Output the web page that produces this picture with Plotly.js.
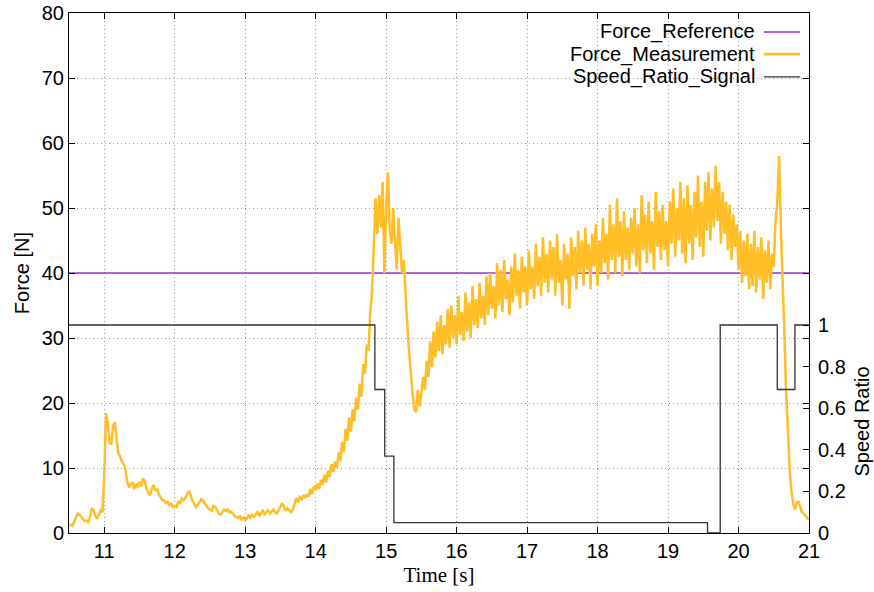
<!DOCTYPE html>
<html>
<head>
<meta charset="utf-8">
<script src="https://cdn.plot.ly/plotly-3.0.1.min.js"></script>
<style>html,body{margin:0;padding:0;background:#fff;}#chart{width:874px;height:592px;}</style>
</head>
<body>
<div id="chart"></div>
<script>
// ---- data ----
const seriesNames = ["Force_Reference", "Force_Measurement", "Speed_Ratio_Signal"];

const refTime = [10.5, 21.0];
const refForce = [40, 40];

// Force measurement, sampled every 0.025 s starting at 10.5 s
const measStart = 10.5;
const measStep = 0.025;
const measForce = [
  1.2,1.3,1.1,1.8,2.6,3.0,2.8,2.4,2.0,1.8,1.9,1.7,2.6,3.8,3.5,2.6,2.2,2.9,3.5,3.2,
  9.0,18.4,17.0,14.0,13.6,16.5,17.0,14.5,12.3,11.8,11.0,10.6,9.8,8.0,7.0,7.5,7.8,6.8,7.6,7.0,
  7.9,7.2,8.4,8.0,6.8,6.2,5.8,6.8,7.4,6.5,6.8,5.9,5.4,5.1,5.0,4.6,4.8,4.3,4.5,4.0,
  4.2,4.0,4.8,4.6,5.3,5.0,5.4,5.9,6.5,5.8,5.0,4.6,4.0,4.3,4.8,5.2,5.0,4.6,4.0,3.8,
  3.6,3.4,4.2,4.0,3.5,3.0,2.8,3.2,3.6,3.4,3.6,3.2,3.3,3.0,2.6,2.5,2.3,2.6,2.1,2.4,
  2.0,2.2,2.8,2.4,2.8,2.5,2.9,3.2,2.7,3.1,3.4,2.9,3.2,3.5,3.0,3.3,3.6,3.2,3.0,3.5,
  4.0,4.6,4.1,3.4,3.8,3.5,3.2,3.6,4.4,5.4,4.7,5.5,5.2,5.8,5.4,6.0,5.6,6.8,6.0,7.2,
  6.6,7.6,6.8,8.2,7.4,9.0,7.8,9.6,8.6,10.6,9.4,11.0,10.0,12.4,11.0,14.0,12.4,16.0,14.2,17.8,
  15.6,19.0,17.2,20.8,19.0,23.0,21.0,26.0,24.5,29.0,28.0,34.0,37.0,44.0,51.5,46.0,52.0,47.0,54.0,40.0,
  50.0,55.5,47.0,44.5,50.0,45.0,40.5,48.5,44.0,40.0,42.0,36.0,32.0,28.0,24.5,21.5,19.0,18.6,22.0,19.5,
  21.5,24.0,22.0,26.5,24.0,29.5,25.5,31.0,27.0,32.5,28.0,33.5,27.5,32.0,29.0,34.5,28.5,35.0,30.0,33.5,
  29.0,36.5,30.5,34.0,29.5,37.0,31.0,35.5,30.0,38.0,32.0,36.0,31.5,38.5,33.0,36.5,32.0,39.5,33.5,40.0,
  34.5,38.0,33.0,41.5,35.0,40.5,34.0,42.0,36.0,39.0,33.5,41.0,35.5,43.0,36.5,40.5,34.5,42.5,37.0,41.0,
  35.0,43.5,37.5,41.0,36.0,44.5,38.0,42.5,36.5,45.5,38.5,43.0,37.0,45.0,39.0,44.0,36.5,46.0,38.5,42.0,
  35.0,44.5,39.0,43.0,34.5,45.5,39.5,44.0,37.5,46.5,40.0,45.0,38.0,47.0,40.5,44.5,37.5,46.0,41.0,47.5,
  38.0,45.0,40.0,48.5,41.5,46.0,39.0,50.5,42.0,47.5,40.0,51.5,42.5,48.0,39.5,49.5,42.0,47.0,40.5,48.5,
  43.0,50.0,41.0,47.5,40.0,52.0,43.5,49.0,41.5,51.0,43.0,48.0,40.5,52.5,44.0,49.5,42.0,50.5,43.5,48.0,
  41.0,51.0,44.5,53.0,42.5,50.0,45.0,54.0,43.0,51.5,41.5,53.5,44.5,50.5,42.0,52.5,45.5,55.0,44.0,51.0,
  42.5,54.0,46.5,55.5,45.0,53.0,47.0,56.5,48.0,54.0,44.5,52.5,46.0,51.0,43.5,50.5,42.0,49.0,44.0,47.5,
  40.5,46.5,38.5,45.0,39.5,46.0,37.5,44.5,38.0,46.5,37.0,44.0,39.0,45.5,36.0,43.5,38.5,45.0,37.5,43.0,
  41.0,48.0,51.0,58.0,47.0,40.0,31.0,22.0,15.0,10.0,6.5,4.5,3.6,4.6,4.9,4.0,3.2,3.0,2.6,2.3,
  2.1
];
const measTime = measForce.map((_, i) => +(measStart + i * measStep).toFixed(3));

// Speed ratio signal (step changes)
const speedTime  = [10.5, 14.84, 14.98, 15.11, 19.56, 19.74, 20.55, 20.80, 21.0];
const speedRatio = [1.0,  0.69,  0.37,  0.05,  0.0,   1.0,   0.69,  1.0,   1.0];

const xTicks = [11,12,13,14,15,16,17,18,19,20,21];
const yTicks = [0,10,20,30,40,50,60,70,80];
const y2Ticks = [0,0.2,0.4,0.6,0.8,1];
const y2TickText = ["0","0.2","0.4","0.6","0.8","1"];

// ---- styles ----
const colRef = "#9b30e0";
const colMeas = "#ffbd26";
const colSpeed = "#333333";
const sans = "Liberation Sans, Arial, sans-serif";
const serif = "Liberation Serif, Times New Roman, serif";
const FS = 20;
const gridDash = "1px,3px";
const gridCol = "#9a9a9a";

const traces = [
  {x: refTime, y: refForce, name: seriesNames[0], type: "scatter", mode: "lines",
   line: {color: colRef, width: 1.3}, xaxis: "x", yaxis: "y"},
  {x: measTime, y: measForce, name: seriesNames[1], type: "scatter", mode: "lines",
   line: {color: colMeas, width: 2.5}, xaxis: "x", yaxis: "y"},
  {x: speedTime, y: speedRatio, name: seriesNames[2], type: "scatter", mode: "lines",
   line: {color: colSpeed, width: 1.3, shape: "hv"}, xaxis: "x", yaxis: "y2"}
];

// custom legend (text right-aligned, sample line on the right, as in the reference)
const legY = [0.9635, 0.921, 0.877];
const legCols = [colRef, colMeas, colSpeed];
const legW = [1.3, 2.8, 1.3];
const annotations = seriesNames.map((n, i) => ({
  xref: "paper", yref: "paper", x: 0.930, y: legY[i], xanchor: "right", yanchor: "middle",
  text: n, showarrow: false, font: {family: sans, size: FS, color: "#000"}
}));
annotations.push({
  xref: "paper", yref: "paper", x: 1.072, y: 0.215, xanchor: "center", yanchor: "middle",
  text: "Speed Ratio", textangle: -90, showarrow: false, font: {family: sans, size: FS, color: "#000"}
});
const shapes = seriesNames.map((n, i) => ({
  type: "line", xref: "paper", yref: "paper", x0: 0.939, x1: 0.988, y0: legY[i], y1: legY[i],
  line: {color: legCols[i], width: legW[i]}
}));

const layout = {
  width: 874, height: 592,
  margin: {l: 69, r: 65, t: 13, b: 59},
  paper_bgcolor: "#fff", plot_bgcolor: "#fff",
  showlegend: false,
  font: {family: sans, size: FS, color: "#000"},
  xaxis: {
    range: [10.5, 21], tickvals: xTicks, ticks: "inside", ticklen: 6, tickcolor: "#000",
    showline: true, linecolor: "#000", linewidth: 1, mirror: "ticks",
    showgrid: true, gridcolor: gridCol, griddash: gridDash, gridwidth: 1, zeroline: false,
    tickfont: {family: sans, size: FS},
    title: {text: "Time [s]", font: {family: serif, size: 21}, standoff: 6}
  },
  yaxis: {
    range: [0, 80], tickvals: yTicks, ticks: "inside", ticklen: 6, tickcolor: "#000",
    showline: true, linecolor: "#000", linewidth: 1, mirror: "ticks",
    showgrid: true, gridcolor: gridCol, griddash: gridDash, gridwidth: 1, zeroline: false,
    tickfont: {family: sans, size: FS},
    title: {text: "Force [N]", font: {family: sans, size: FS}, standoff: 6}
  },
  yaxis2: {
    overlaying: "y", side: "right", range: [0, 2.5],
    tickvals: y2Ticks, ticktext: y2TickText, ticks: "inside", ticklen: 6, tickcolor: "#000",
    showgrid: false, zeroline: false, showline: false, ticklabelstandoff: 8,
    tickfont: {family: sans, size: FS}
  },
  annotations: annotations,
  shapes: shapes
};

Plotly.newPlot("chart", traces, layout, {staticPlot: true, displayModeBar: false});
</script>
</body>
</html>
